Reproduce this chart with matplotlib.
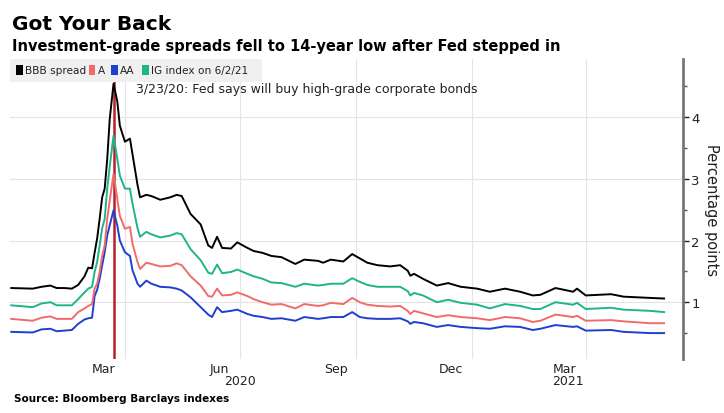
import numpy as np
import pandas as pd
import matplotlib
matplotlib.use("Agg")
import matplotlib.pyplot as plt
from matplotlib.patches import Rectangle
from matplotlib.transforms import blended_transform_factory

# dates
dates = ["2020-01-02", "2020-01-19", "2020-01-26", "2020-02-02", "2020-02-07",
         "2020-02-13", "2020-02-19", "2020-02-24", "2020-02-29", "2020-03-03",
         "2020-03-06", "2020-03-08", "2020-03-10", "2020-03-12", "2020-03-14",
         "2020-03-16", "2020-03-18", "2020-03-20", "2020-03-23", "2020-03-26",
         "2020-03-28", "2020-04-01", "2020-04-05", "2020-04-07", "2020-04-11",
         "2020-04-13", "2020-04-18", "2020-04-22", "2020-04-29", "2020-05-07",
         "2020-05-12", "2020-05-16", "2020-05-23", "2020-05-31", "2020-06-06",
         "2020-06-09", "2020-06-13", "2020-06-17", "2020-06-24", "2020-06-29",
         "2020-07-07", "2020-07-12", "2020-07-19", "2020-07-26", "2020-08-03",
         "2020-08-14", "2020-08-21", "2020-09-01", "2020-09-05", "2020-09-11",
         "2020-09-21", "2020-09-28", "2020-10-04", "2020-10-10", "2020-10-18",
         "2020-10-28", "2020-11-05", "2020-11-11", "2020-11-13", "2020-11-16",
         "2020-11-23", "2020-12-04", "2020-12-13", "2020-12-23", "2021-01-05",
         "2021-01-15", "2021-01-27", "2021-02-08", "2021-02-18", "2021-02-24",
         "2021-03-08", "2021-03-22", "2021-03-25", "2021-04-01", "2021-04-21",
         "2021-05-01", "2021-05-22", "2021-06-02"]

bbb = [1.23, 1.22, 1.25, 1.27, 1.23, 1.23, 1.22, 1.28, 1.42, 1.56,
       1.55, 1.80, 2.03, 2.35, 2.70, 2.84, 3.32, 3.97, 4.54, 4.25,
       3.86, 3.60, 3.65, 3.40, 2.90, 2.70, 2.74, 2.72, 2.66, 2.70,
       2.74, 2.72, 2.43, 2.26, 1.92, 1.88, 2.06, 1.88, 1.87, 1.97,
       1.88, 1.83, 1.80, 1.75, 1.73, 1.62, 1.69, 1.67, 1.64, 1.69,
       1.66, 1.78, 1.71, 1.64, 1.60, 1.58, 1.60, 1.51, 1.43, 1.46,
       1.38, 1.27, 1.31, 1.25, 1.22, 1.17, 1.22, 1.17, 1.11, 1.12,
       1.23, 1.17, 1.22, 1.11, 1.13, 1.09, 1.07, 1.06]

ig = [0.95, 0.92, 0.98, 1.00, 0.95, 0.95, 0.95, 1.05, 1.16, 1.22,
      1.25, 1.49, 1.65, 1.92, 2.20, 2.35, 2.84, 3.20, 3.70, 3.32,
      3.05, 2.84, 2.84, 2.60, 2.20, 2.06, 2.14, 2.10, 2.05, 2.08,
      2.12, 2.10, 1.86, 1.68, 1.48, 1.46, 1.61, 1.47, 1.49, 1.53,
      1.46, 1.42, 1.38, 1.32, 1.31, 1.25, 1.30, 1.27, 1.28, 1.30,
      1.30, 1.39, 1.33, 1.28, 1.25, 1.25, 1.25, 1.18, 1.11, 1.15,
      1.11, 1.00, 1.04, 0.99, 0.96, 0.90, 0.97, 0.94, 0.89, 0.89,
      1.00, 0.96, 0.99, 0.89, 0.91, 0.88, 0.86, 0.84]

a = [0.73, 0.70, 0.75, 0.77, 0.73, 0.73, 0.73, 0.84, 0.90, 0.94,
     0.97, 1.22, 1.30, 1.49, 1.75, 1.92, 2.35, 2.65, 3.08, 2.67,
     2.40, 2.19, 2.22, 1.95, 1.65, 1.54, 1.64, 1.62, 1.58, 1.59,
     1.63, 1.60, 1.42, 1.27, 1.10, 1.09, 1.22, 1.11, 1.12, 1.16,
     1.10, 1.05, 1.00, 0.96, 0.97, 0.90, 0.97, 0.94, 0.95, 0.99,
     0.97, 1.07, 1.00, 0.96, 0.94, 0.93, 0.94, 0.86, 0.81, 0.86,
     0.82, 0.76, 0.79, 0.76, 0.74, 0.71, 0.76, 0.74, 0.68, 0.70,
     0.80, 0.76, 0.78, 0.70, 0.71, 0.69, 0.66, 0.66]

aa = [0.52, 0.51, 0.56, 0.57, 0.53, 0.54, 0.55, 0.65, 0.72, 0.74,
      0.75, 1.10, 1.20, 1.38, 1.60, 1.81, 2.08, 2.25, 2.49, 2.24,
      2.00, 1.81, 1.75, 1.52, 1.30, 1.25, 1.35, 1.30, 1.25, 1.24,
      1.22, 1.19, 1.08, 0.92, 0.80, 0.76, 0.92, 0.84, 0.86, 0.88,
      0.81, 0.78, 0.76, 0.73, 0.74, 0.70, 0.76, 0.73, 0.74, 0.76,
      0.76, 0.84, 0.76, 0.74, 0.73, 0.73, 0.74, 0.69, 0.65, 0.68,
      0.66, 0.60, 0.63, 0.60, 0.58, 0.57, 0.61, 0.60, 0.55, 0.57,
      0.63, 0.60, 0.61, 0.54, 0.55, 0.52, 0.50, 0.50]

series_names = ["BBB spread", "A", "AA", "IG index on 6/2/21"]
series_colors = ["#000000", "#f26b6b", "#1f3fcf", "#1fb58a"]

month_labels = ["Mar", "Jun", "Sep", "Dec", "Mar"]
month_dates = ["2020-03-15", "2020-06-15", "2020-09-15", "2020-12-15", "2021-03-15"]
grid_dates = ["2020-04-01", "2020-07-01", "2020-10-01", "2021-01-01", "2021-04-01"]
year_labels = ["2020", "2021"]
year_dates = ["2020-07-01", "2021-03-18"]
fed_date = "2020-03-23"

t = pd.to_datetime(dates)

fig = plt.figure(figsize=(7.24, 4.14), dpi=100)
ax = fig.add_axes([0.0138, 0.1304, 0.9296, 0.7246])

# red line for the Fed announcement, drawn under the series
ax.axvline(pd.Timestamp(fed_date), color="#b5202e", lw=1.8, zorder=1)

# draw in order so black is on top
order = [2, 1, 3, 0]
vals = [bbb, a, aa, ig]
for i in order:
    ax.plot(t, vals[i], color=series_colors[i], lw=1.4, zorder=3)

ax.set_xlim(pd.Timestamp("2020-01-01"), pd.Timestamp("2021-06-17"))
ax.set_ylim(0.08, 4.94)

# y axis on the right
ax.yaxis.tick_right()
ax.set_yticks([1, 2, 3, 4])
ax.set_yticks([0.5, 1.5, 2.5, 3.5, 4.5], minor=True)
ax.tick_params(axis="y", which="major", length=4, width=1, colors="#222222",
               labelsize=9.5, pad=2)
ax.tick_params(axis="y", which="minor", length=3, width=1, colors="#555555")
ax.yaxis.grid(True, which="major", color="#e4e4e4", lw=0.8)
ax.yaxis.set_label_position("right")
ax.set_ylabel("Percentage points", rotation=-90, labelpad=14, fontsize=10.5,
              color="#222222")

# x axis: month labels mid month, gridlines at quarter starts
ax.set_xticks(pd.to_datetime(month_dates))
ax.set_xticklabels(month_labels)
ax.set_xticks(pd.to_datetime(grid_dates), minor=True)
ax.tick_params(axis="x", which="both", length=0, labelsize=9, colors="#222222", pad=2)
ax.xaxis.grid(True, which="minor", color="#e4e4e4", lw=0.8)
ax.set_axisbelow(True)

trans = blended_transform_factory(ax.transData, ax.transAxes)
for lab, d in zip(year_labels, year_dates):
    ax.text(pd.Timestamp(d), -0.05, lab, transform=trans, ha="center", va="top",
            fontsize=9, color="#222222")

for s in ["top", "left", "bottom"]:
    ax.spines[s].set_visible(False)
ax.spines["right"].set_color("#777777")
ax.spines["right"].set_linewidth(2)

# legend strip
ax.add_patch(Rectangle((0, 0.925), 0.375, 0.075, transform=ax.transAxes,
                       facecolor="#f0f0f0", edgecolor="none", zorder=2))
lx = [0.009, 0.117, 0.150, 0.196]
for i in range(4):
    ax.add_patch(Rectangle((lx[i], 0.946), 0.010, 0.033, transform=ax.transAxes,
                           facecolor=series_colors[i], edgecolor="none", zorder=4))
    ax.text(lx[i] + 0.014, 0.962, series_names[i], transform=ax.transAxes,
            fontsize=7.6, va="center", ha="left", color="#222222", zorder=4)

ax.text(pd.Timestamp("2020-04-10"), 4.47, "3/23/20: Fed says will buy high-grade corporate bonds",
        fontsize=9, va="center", ha="left", color="#222222", zorder=4)

fig.text(0.016, 0.94, "Got Your Back", fontsize=14.5, fontweight="bold", va="center")
fig.text(0.016, 0.888, "Investment-grade spreads fell to 14-year low after Fed stepped in",
         fontsize=10.5, fontweight="bold", va="center")
fig.text(0.02, 0.036, "Source: Bloomberg Barclays indexes", fontsize=7.5,
         fontweight="bold", va="center")

fig.savefig("out.png", dpi=100)
